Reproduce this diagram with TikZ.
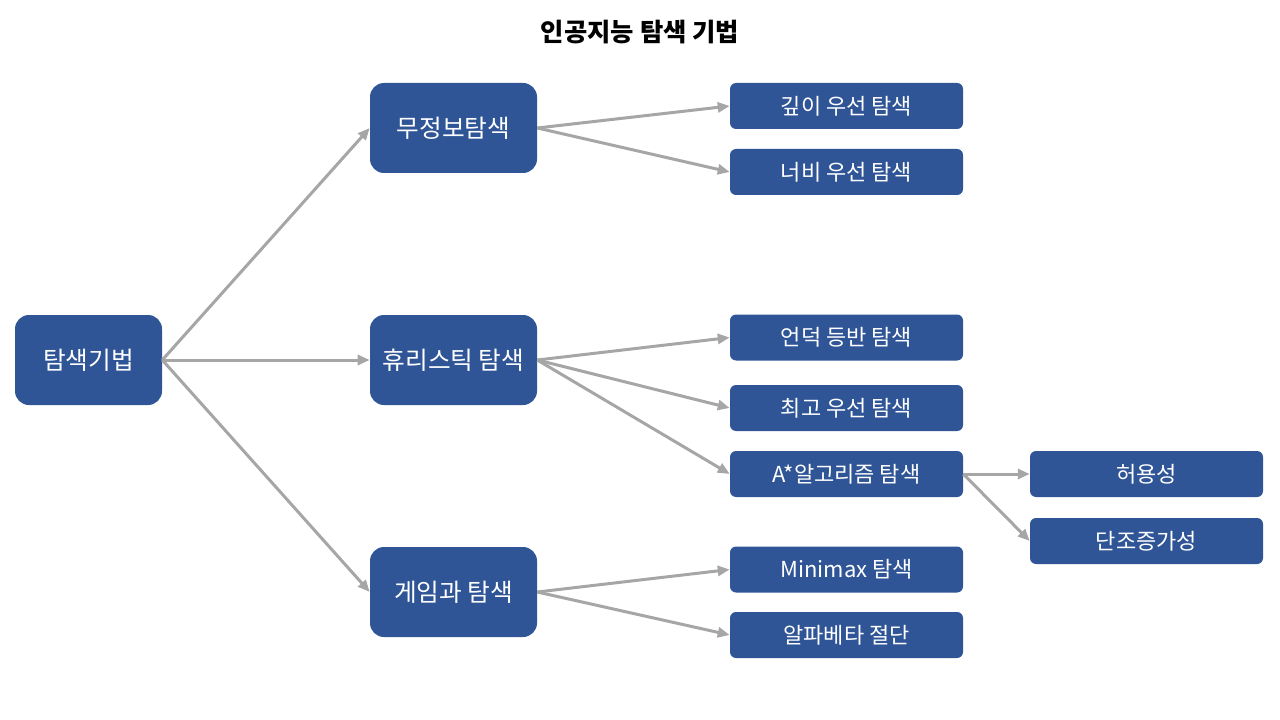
\documentclass[tikz,border=0pt]{standalone}
\usepackage{fontspec}
\setmainfont{Noto Sans CJK KR}
\usetikzlibrary{arrows.meta, positioning}
\definecolor{boxblue}{HTML}{2F5597}
\definecolor{linegray}{HTML}{A6A6A6}

\begin{document}
\begin{tikzpicture}[x=0.75pt, y=-0.75pt,
    topbox/.style={rectangle, rounded corners=10.5pt, fill=boxblue, text=white, inner sep=0pt,
        minimum height=67.5pt, font=\fontsize{18.5}{22}\selectfont},
    leafbox/.style={rectangle, rounded corners=4.5pt, fill=boxblue, text=white, inner sep=0pt,
        minimum width=174.75pt, minimum height=34.5pt, font=\fontsize{16.5}{19}\selectfont},
    link/.style={draw=linegray, line width=2.25pt, -{Triangle[length=9pt, width=7.5pt]}}]
    \useasboundingbox (0,0) rectangle (1280,720);

    % title
    \node[font=\bfseries\fontsize{19}{22}\selectfont] (title) at (640,32) {인공지능 탐색 기법};

    % root and first level
    \node[topbox, minimum width=110.25pt] (root) at (88.5,360) {탐색기법};
    \node[topbox, minimum width=125.25pt] (blind) at (453.5,128) {무정보탐색};
    \node[topbox, minimum width=125.25pt] (heur) at (453.5,360) {휴리스틱 탐색};
    \node[topbox, minimum width=125.25pt] (game) at (453.5,592) {게임과 탐색};

    % second level
    \node[leafbox] (dfs) at (846.5,106) {깊이 우선 탐색};
    \node[leafbox] (bfs) at (846.5,172) {너비 우선 탐색};
    \node[leafbox] (hill) at (846.5,337.5) {언덕 등반 탐색};
    \node[leafbox] (best) at (846.5,408) {최고 우선 탐색};
    \node[leafbox] (astar) at (846.5,474) {A*알고리즘 탐색};
    \node[leafbox] (minimax) at (846.5,569.5) {Minimax 탐색};
    \node[leafbox] (alphabeta) at (846.5,635) {알파베타 절단};

    % third level
    \node[leafbox] (admiss) at (1146.5,474) {허용성};
    \node[leafbox] (monot) at (1146.5,541) {단조증가성};

    \path (root.east) edge [link] (blind.west);
    \path (root.east) edge [link] (heur.west);
    \path (root.east) edge [link] (game.west);

    \path (blind.east) edge [link] (dfs.west);
    \path (blind.east) edge [link] (bfs.west);

    \path (heur.east) edge [link] (hill.west);
    \path (heur.east) edge [link] (best.west);
    \path (heur.east) edge [link] (astar.west);

    \path (game.east) edge [link] (minimax.west);
    \path (game.east) edge [link] (alphabeta.west);

    \path (astar.east) edge [link] (admiss.west);
    \path (astar.east) edge [link] (monot.west);
\end{tikzpicture}
\end{document}
